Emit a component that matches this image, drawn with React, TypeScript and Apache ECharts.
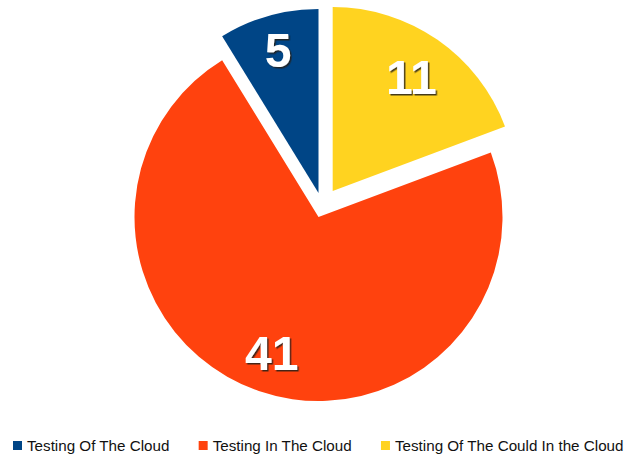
import React, { useEffect, useRef } from "react";
import * as echarts from "echarts";

const categories = ["Testing Of The Cloud", "Testing In The Cloud", "Testing Of The Could In the Cloud"];
const values = [5, 41, 11];
const colors = ["#004586", "#ff420e", "#ffd320"];

// layout (pixels): per-slice centers (exploded slices shifted), label inner radius
const sliceCenters: [number, number][] = [
  [318.5, 193],
  [318.5, 217],
  [332.7, 191],
];
const labelInner = [107, 98, 86];
const R = 184;

function buildOption() {
  const series: any[] = [];
  categories.forEach((_, i) => {
    const data = values.map((v, j) =>
      j === i
        ? { name: categories[j], value: v, itemStyle: { color: colors[j] } }
        : { name: "__" + i + "_" + j, value: v, itemStyle: { color: "transparent" } }
    );
    series.push({
      type: "pie",
      silent: true,
      clockwise: false,
      startAngle: 90,
      center: sliceCenters[i],
      radius: [0, R],
      avoidLabelOverlap: false,
      label: { show: false },
      labelLine: { show: false },
      emphasis: { disabled: true },
      data,
    });
  });
  categories.forEach((_, i) => {
    const data = values.map((v, j) =>
      j === i
        ? {
            name: "lbl_" + j,
            value: v,
            itemStyle: { color: "transparent" },
            label: {
              show: true,
              position: "inside",
              formatter: "{c}",
              color: "#ffffff",
              fontSize: 48,
              fontWeight: "bold",
              fontFamily: "Liberation Sans",
              textShadowColor: "rgba(40,30,20,0.85)",
              textShadowOffsetX: 1.5,
              textShadowOffsetY: 1.5,
              textShadowBlur: 1,
            },
          }
        : { name: "lbl_" + i + "_" + j, value: v, itemStyle: { color: "transparent" }, label: { show: false } }
    );
    series.push({
      type: "pie",
      silent: true,
      clockwise: false,
      startAngle: 90,
      center: sliceCenters[i],
      radius: [labelInner[i], R],
      avoidLabelOverlap: false,
      labelLine: { show: false },
      emphasis: { disabled: true },
      z: 5,
      data,
    });
  });
  return {
    animation: false,
    backgroundColor: "#ffffff",
    legend: {
      data: categories,
      left: 13,
      top: 438,
      width: 613,
      padding: 0,
      icon: "rect",
      itemWidth: 9,
      itemHeight: 9,
      itemGap: 29,
      selectedMode: false,
      textStyle: { fontSize: 15.2, color: "#111111", fontFamily: "Liberation Sans" },
    },
    series,
  };
}

export default function App() {
  const ref = useRef<HTMLDivElement>(null);
  useEffect(() => {
    if (!ref.current) return;
    const chart = echarts.init(ref.current, undefined, { renderer: "svg" });
    chart.setOption(buildOption() as any);
    return () => chart.dispose();
  }, []);
  return <div ref={ref} style={{ position: "absolute", left: 0, top: 0, width: 626, height: 458 }} />;
}
